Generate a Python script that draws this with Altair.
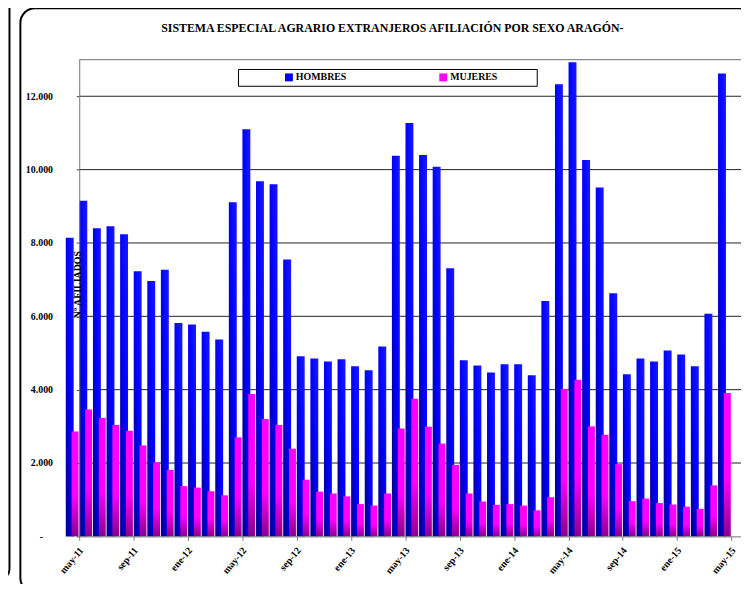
import altair as alt
import pandas as pd

# ---------------- data ----------------
months = ["may-11", "jun-11", "jul-11", "ago-11", "sep-11", "oct-11", "nov-11", "dic-11",
          "ene-12", "feb-12", "mar-12", "abr-12", "may-12", "jun-12", "jul-12", "ago-12",
          "sep-12", "oct-12", "nov-12", "dic-12", "ene-13", "feb-13", "mar-13", "abr-13",
          "may-13", "jun-13", "jul-13", "ago-13", "sep-13", "oct-13", "nov-13", "dic-13",
          "ene-14", "feb-14", "mar-14", "abr-14", "may-14", "jun-14", "jul-14", "ago-14",
          "sep-14", "oct-14", "nov-14", "dic-14", "ene-15", "feb-15", "mar-15", "abr-15",
          "may-15"]

hombres = [8140, 9150, 8400, 8455, 8240, 7230, 6960, 7270, 5820, 5780, 5580, 5370,
           9110, 11100, 9680, 9600, 7550, 4910, 4850, 4770, 4830, 4640, 4530, 5180,
           10380, 11270, 10400, 10080, 7310, 4800, 4660, 4470, 4690, 4690, 4390, 6420,
           12330, 12930, 10260, 9510, 6630, 4420, 4850, 4770, 5070, 4960, 4640, 6070,
           12620]

mujeres = [2860, 3460, 3230, 3040, 2880, 2480, 2020, 1810, 1370, 1330, 1230, 1120,
           2700, 3880, 3200, 3040, 2390, 1545, 1220, 1170, 1090, 880, 840, 1170,
           2940, 3750, 2990, 2530, 1950, 1170, 950, 860, 880, 840, 710, 1070,
           4020, 4270, 3000, 2770, 1970, 960, 1030, 910, 870, 810, 750, 1390,
           3910]

series = ["HOMBRES", "MUJERES"]
series_colors = ["#0000FF", "#FF00FF"]
y_ticks = [0, 2000, 4000, 6000, 8000, 10000, 12000]
title_text = "SISTEMA ESPECIAL AGRARIO EXTRANJEROS AFILIACIÓN POR SEXO ARAGÓN-"
y_title = "Nº AFILIADOS"

# ---------------- tables ----------------
n = len(months)
long_df = pd.DataFrame({
    "idx": list(range(n)) * 2,
    "mes": months * 2,
    "serie": ["HOMBRES"] * n + ["MUJERES"] * n,
    "valor": hombres + mujeres,
})
grid_df = pd.DataFrame({"valor": y_ticks[1:]})
legend_df = pd.DataFrame({"serie": series})
title_df = pd.DataFrame({"t": [title_text]})
one_df = pd.DataFrame({"a": [0]})

FONT = "Liberation Serif"
W, H = 669, 482
PI = 3.14159265

x_scale = alt.Scale(domain=[0, 48.7], nice=False, zero=False, padding=0)
y_scale = alt.Scale(domain=[0, 13000], nice=False, zero=True, padding=0)

label_array = "[" + ",".join("'" + m + "'" for m in months) + "]"
x_axis = alt.Axis(
    values=list(range(0, n, 4)), labelExpr=label_array + "[datum.value]",
    labelAngle=310, labelAlign="right", labelBaseline="middle",
    labelFont=FONT, labelFontWeight="bold", labelFontSize=10, labelColor="black",
    labelPadding=8, labelOffset=2, tickSize=4, tickColor="#808080", domainColor="#808080",
    grid=False, title=None, zindex=1, labelOverlap=False,
)
y_axis = alt.Axis(
    values=y_ticks,
    labelExpr="datum.value == 0 ? '-' : replace(format(datum.value, ','), ',', '.')",
    labelFont=FONT, labelFontWeight="bold", labelFontSize=10, labelColor="black",
    labelPadding={"condition": {"test": "datum.value === 0", "value": 34}, "value": 24},
    tickSize=3, tickColor="#404040", domainColor="#808080",
    grid=False, zindex=1,
    title=y_title, titleFont=FONT, titleFontWeight="bold", titleFontSize=10,
    titleColor="black", titleX=-2, titleY=227, titleAngle=270,
    titleAlign="center", titleBaseline="middle",
)

blue_fill = {"gradient": "linear", "x1": 0, "y1": 1, "x2": 1, "y2": 0,
             "stops": [{"offset": 0, "color": "#000080"},
                       {"offset": 0.5, "color": "#0000FF"},
                       {"offset": 1, "color": "#1a1aff"}]}
pink_fill = {"gradient": "linear", "x1": 0, "y1": 0, "x2": 0, "y2": 1,
             "stops": [{"offset": 0, "color": "#FF00FF"},
                       {"offset": 0.6, "color": "#FF00FF"},
                       {"offset": 1, "color": "#8B008B"}]}


# ---------------- decorative frames (everything stays inside the 749x600 page) ----------------
def hline(y, x1, x2):
    return alt.Chart(one_df).mark_rule(color="black", strokeWidth=2).encode(
        y=alt.value(y), x=alt.value(x1), x2=alt.value(x2))


def vline(x, y1, y2):
    return alt.Chart(one_df).mark_rule(color="black", strokeWidth=2).encode(
        x=alt.value(x), y=alt.value(y1), y2=alt.value(y2))


def corner(cx, cy, r, t1, t2):
    return alt.Chart(one_df).mark_arc(
        innerRadius=r - 1, outerRadius=r + 1, color="black"
    ).encode(x=alt.value(cx), y=alt.value(cy), theta=alt.value(t1), theta2=alt.value(t2))


FL, FT, FB, R = -59.5, -52, 539, 15
frame_parts = [
    hline(FT, FL + R, W), hline(FB, FL + R, W),
    vline(FL, FT + R, FB - R),
    corner(FL + R, FT + R, R, 1.5 * PI, 2 * PI),
    corner(FL + R, FB - R, R, PI, 1.5 * PI),
    vline(-70.5, -57, 515),
    corner(-80.5, 515, 10, 0.5 * PI, PI),
]

legend_box = alt.Chart(one_df).mark_rect(
    fill="white", stroke="black", strokeWidth=1
).encode(x=alt.value(161), x2=alt.value(463), y=alt.value(10), y2=alt.value(27))
top_border = alt.Chart(one_df).mark_rule(color="#808080").encode(
    y=alt.value(0), x=alt.value(0), x2=alt.value(W))
title_mark = alt.Chart(title_df).mark_text(
    font=FONT, fontSize=12, fontWeight="bold", color="black",
    align="center", baseline="middle"
).encode(text="t:N", x=alt.value(316.5), y=alt.value(-32))

grid = alt.Chart(grid_df).mark_rule(color="#202020", strokeWidth=1).encode(
    y=alt.Y("valor:Q", scale=y_scale, axis=y_axis))

blue = alt.Chart(long_df).transform_filter(alt.datum.serie == "HOMBRES").mark_bar(
    width=8, xOffset=-9.6, fill=blue_fill
).encode(
    x=alt.X("idx:Q", scale=x_scale, axis=x_axis),
    y=alt.Y("valor:Q", scale=y_scale, axis=y_axis),
)
pink = alt.Chart(long_df).transform_filter(alt.datum.serie == "MUJERES").mark_bar(
    width=7, xOffset=-4.2, fill=pink_fill
).encode(
    x=alt.X("idx:Q", scale=x_scale, axis=x_axis),
    y=alt.Y("valor:Q", scale=y_scale, axis=y_axis),
)

legend_layer = alt.Chart(legend_df).mark_square(opacity=0, size=64).encode(
    color=alt.Color("serie:N", scale=alt.Scale(domain=series, range=series_colors),
                    legend=alt.Legend(
                        orient="none", legendX=207, legendY=13, direction="horizontal",
                        title=None, symbolType="square", symbolSize=64, symbolOpacity=1,
                        symbolStrokeWidth=0, labelFont=FONT, labelFontWeight="bold",
                        labelFontSize=10, labelColor="black", labelOffset=2,
                        columnPadding=92, padding=0)),
)

chart = alt.layer(
    *frame_parts, grid, top_border, legend_box, title_mark, blue, pink, legend_layer
).properties(
    width=W, height=H,
    autosize=alt.AutoSizeParams(type="none"),
    padding={"left": 72, "top": 49, "right": 0, "bottom": 45},
).configure_view(stroke=None).configure(background="white")

chart.save("out.html", embed_options={"renderer": "svg", "actions": False})
